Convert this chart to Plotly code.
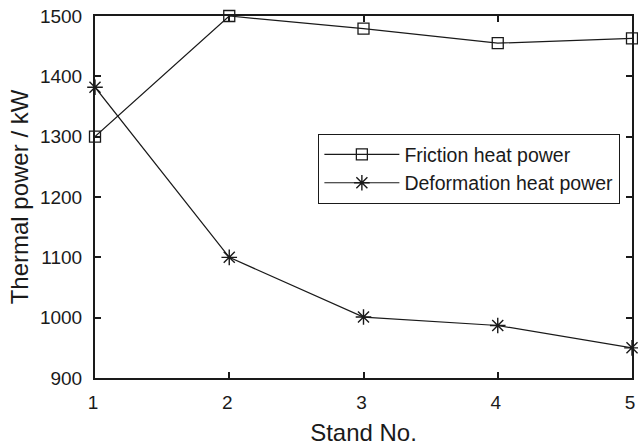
import plotly.graph_objects as go

stands = [1, 2, 3, 4, 5]
friction = [1300, 1500, 1479, 1455, 1463]
deformation = [1382, 1100, 1001, 987, 950]
y_ticks = [900, 1000, 1100, 1200, 1300, 1400, 1500]

ink = "#1a1a1a"
font_family = "Liberation Sans, Arial, sans-serif"

fig = go.Figure()
fig.add_trace(go.Scatter(
    x=stands, y=friction, name="Friction heat power", mode="lines+markers",
    line=dict(color=ink, width=1.2),
    marker=dict(symbol="square-open", size=11, color=ink, line=dict(width=1.3, color=ink)),
    cliponaxis=False,
))
fig.add_trace(go.Scatter(
    x=stands, y=deformation, name="Deformation heat power", mode="lines+markers",
    line=dict(color=ink, width=1.2),
    marker=dict(symbol="asterisk-open", size=13, color=ink, line=dict(width=1.4, color=ink)),
    cliponaxis=False,
))

axis_common = dict(
    showline=True, linecolor=ink, linewidth=2, mirror="ticks",
    ticks="inside", ticklen=6, tickwidth=1.5, tickcolor=ink,
    showgrid=False, zeroline=False, automargin=False,
    ticklabeloverflow="allow",
    tickfont=dict(size=19, color=ink, family=font_family),
)

fig.update_layout(
    width=638, height=446,
    margin=dict(l=95, r=6, t=16, b=68),
    paper_bgcolor="white", plot_bgcolor="white",
    font=dict(family=font_family, color=ink),
    xaxis=dict(range=[1, 5], tickvals=stands, ticklabelstandoff=6, ticklabelshift=-2,
               title=dict(text="Stand No.", font=dict(size=24, color=ink), standoff=12),
               **axis_common),
    yaxis=dict(range=[900, 1500], tickvals=y_ticks, ticklabelstandoff=7,
               title=dict(text="Thermal power / kW", font=dict(size=24, color=ink), standoff=5),
               **axis_common),
    legend=dict(x=0.4156, y=0.674, xanchor="left", yanchor="top",
                bordercolor=ink, borderwidth=1.2, bgcolor="white",
                font=dict(size=19.5, color=ink, family=font_family),
                itemwidth=75, tracegroupgap=0),
    showlegend=True,
)

fig.write_html("out.html", config={"displayModeBar": False},
               post_script="document.body.style.margin='0';")
